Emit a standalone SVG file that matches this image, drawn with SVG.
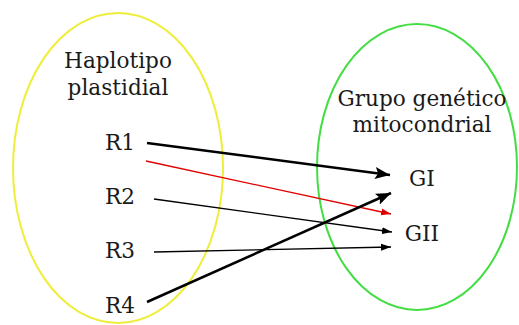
<svg xmlns="http://www.w3.org/2000/svg" width="519" height="325" viewBox="0 0 519 325">
<defs>
<style>
.lbl{font-family:"DejaVu Serif","Liberation Serif",serif;font-size:21.6px;fill:#1a1a1a;text-anchor:middle}
.set{fill:none;stroke-width:2}
.thick{stroke:#000;stroke-width:2.5;fill:none}
.thin{stroke:#000;stroke-width:1.3;fill:none}
.red{stroke:#e00000;stroke-width:1.3;fill:none}
</style>
<marker id="big" markerUnits="userSpaceOnUse" markerWidth="16" markerHeight="12" refX="15" refY="6" orient="auto"><path d="M0,0 L15,6 L0,12 L3,6 Z" fill="#000"/></marker>
<marker id="small" markerUnits="userSpaceOnUse" markerWidth="11" markerHeight="8" refX="10" refY="4" orient="auto"><path d="M0,0.5 L10,4 L0,7.5 Z" fill="#000"/></marker>
<marker id="smallred" markerUnits="userSpaceOnUse" markerWidth="11" markerHeight="8" refX="10" refY="4" orient="auto"><path d="M0,0.5 L10,4 L0,7.5 Z" fill="#e00000"/></marker>
</defs>
<rect width="519" height="325" fill="#fff"/>
<g id="plastidial">
<ellipse class="set" cx="118" cy="168" rx="105" ry="155" stroke="#eeee3a"/>
<text class="lbl" x="118" y="68">Haplotipo</text>
<text class="lbl" x="118" y="95">plastidial</text>
</g>
<g id="mitocondrial">
<ellipse class="set" cx="417" cy="167" rx="100" ry="143" stroke="#44dd44"/>
<text class="lbl" x="422" y="106">Grupo genético</text>
<text class="lbl" x="422" y="132">mitocondrial</text>
</g>
<g id="R1"><text class="lbl" x="120" y="150">R1</text></g>
<g id="R2"><text class="lbl" x="120" y="204">R2</text></g>
<g id="R3"><text class="lbl" x="120" y="258">R3</text></g>
<g id="R4"><text class="lbl" x="120" y="313">R4</text></g>
<g id="GI"><text class="lbl" x="422" y="186">GI</text></g>
<g id="GII"><text class="lbl" x="422" y="241">GII</text></g>
<g id="connectors">
<line class="thick" x1="147" y1="143" x2="390" y2="175" marker-end="url(#big)"/>
<line class="red" x1="146" y1="161" x2="391" y2="214" marker-end="url(#smallred)"/>
<line class="thin" x1="154" y1="199" x2="392" y2="232" marker-end="url(#small)"/>
<line class="thin" x1="154" y1="252" x2="391" y2="247" marker-end="url(#small)"/>
<line class="thick" x1="147" y1="302" x2="391" y2="193" marker-end="url(#big)"/>
</g>
</svg>
